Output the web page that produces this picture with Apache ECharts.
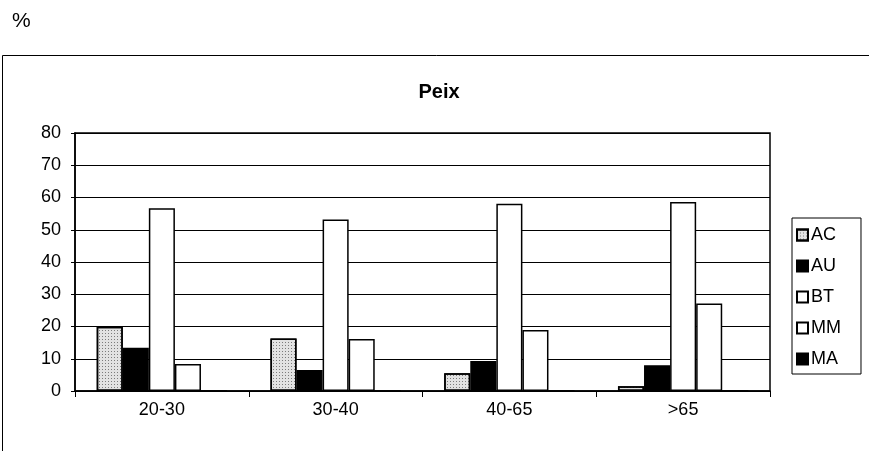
<!DOCTYPE html>
<html>
<head>
<meta charset="utf-8">
<script src="https://cdn.jsdelivr.net/npm/echarts@6/dist/echarts.min.js"></script>
<style>
  html, body { margin: 0; padding: 0; background: #fff; }
  #chart { width: 869px; height: 451px; }
</style>
</head>
<body>
<div id="chart"></div>
<script>
// age groups
var categories = ['20-30', '30-40', '40-65', '>65'];
var acData = [19.9, 16.3, 5.5, 1.5];
var auData = [13.4, 6.5, 9.3, 8.0];
var btData = [56.7, 53.2, 58.1, 58.6];
var mmData = [8.4, 16.1, 18.9, 27.1];
var maData = [0, 0, 0, 0];
var yTicks = [0, 10, 20, 30, 40, 50, 60, 70, 80];

var chart = echarts.init(document.getElementById('chart'));

function barSeries(name, data, fill, decal) {
    var s = {
        name: name,
        type: 'bar',
        data: data,
        barGap: '0%',
        barCategoryGap: '25%',
        itemStyle: {
            color: fill,
            borderColor: '#000',
            borderWidth: 1.5
        }
    };
    if (decal) s.itemStyle.decal = decal;
    return s;
}

// speckled fill for AC
var dots = {
    symbol: 'rect',
    symbolSize: 1,
    color: 'rgba(0,0,0,0.45)',
    dashArrayX: [1, 2],
    dashArrayY: [1, 2],
    rotation: 0
};

var option = {
    animation: false,
    backgroundColor: '#fff',
    textStyle: { fontFamily: 'Liberation Sans, Arial, sans-serif' },
    title: {
        text: 'Peix',
        left: 434,
        top: 77,
        textAlign: 'center',
        textStyle: { fontSize: 20, fontWeight: 'bold', color: '#000' }
    },
    graphic: [
        {
            type: 'rect',
            shape: { x: 2.5, y: 55.5, width: 900, height: 420 },
            style: { fill: 'none', stroke: '#000', lineWidth: 1 }
        },
        {
            type: 'text',
            left: 12,
            top: 11,
            style: { text: '%', fontSize: 21, fill: '#000', fontFamily: 'Liberation Sans, Arial, sans-serif' }
        }
    ],
    legend: {
        orient: 'vertical',
        left: 792,
        top: 218,
        width: 80,
        padding: [8, 20, 6, 4],
        itemGap: 13,
        itemWidth: 11,
        itemHeight: 11,
        icon: 'rect',
        borderColor: '#000',
        borderWidth: 1,
        textStyle: { fontSize: 18, color: '#000', padding: [-8, 0, 0, -2] },
        data: ['AC', 'AU', 'BT', 'MM', 'MA']
    },
    grid: {
        left: 75,
        right: 99,
        top: 133,
        bottom: 60,
        show: true,
        borderColor: '#000',
        borderWidth: 1.5
    },
    xAxis: {
        type: 'category',
        data: categories,
        axisLine: { lineStyle: { color: '#000', width: 1.5 } },
        axisTick: { show: true, length: 6, lineStyle: { color: '#000' } },
        axisLabel: { fontSize: 18, color: '#000', margin: 10 }
    },
    yAxis: {
        type: 'value',
        min: yTicks[0],
        max: yTicks[yTicks.length - 1],
        interval: 10,
        axisLine: { show: true, lineStyle: { color: '#000', width: 1.5 } },
        axisTick: { show: true, length: 4, lineStyle: { color: '#000' } },
        axisLabel: { fontSize: 18, color: '#000', margin: 14 },
        splitLine: { lineStyle: { color: '#000', width: 1.2 } }
    },
    series: [
        barSeries('AC', acData, '#e2e2e2', dots),
        barSeries('AU', auData, '#000'),
        barSeries('BT', btData, '#fff'),
        barSeries('MM', mmData, '#fff'),
        barSeries('MA', maData, '#000')
    ]
};

chart.setOption(option);
</script>
</body>
</html>
